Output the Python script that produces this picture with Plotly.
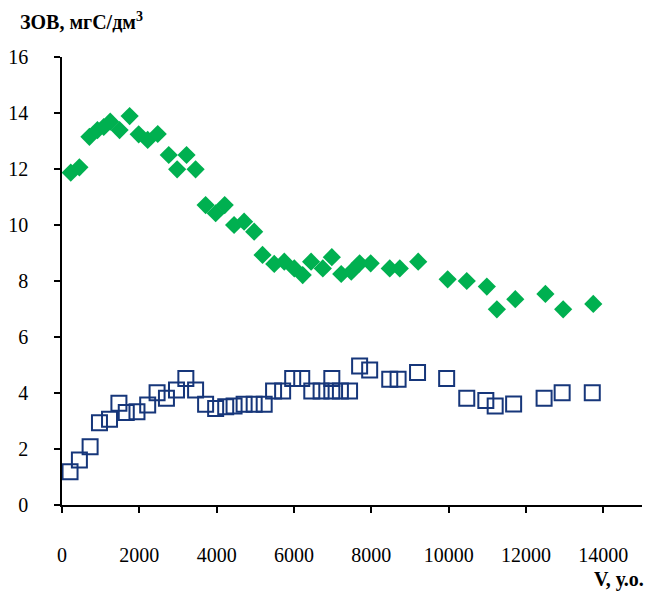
import plotly.graph_objects as go

# Green diamonds (upper series)
green_x = [226, 450, 709, 917, 1080, 1247, 1489, 1749, 1983, 2216, 2476, 2761, 2978, 3221, 3455,
           3714, 3974, 4208, 4450, 4710, 4970, 5186, 5489, 5749, 6008, 6225, 6442, 6745, 6978,
           7221, 7481, 7697, 7983, 8476, 8736, 9212, 9974, 10468, 10987, 11247, 11723, 12502,
           12961, 13740]
green_y = [11.87, 12.06, 13.15, 13.39, 13.5, 13.69, 13.39, 13.89, 13.24, 13.04, 13.25, 12.5, 11.99,
           12.5, 11.99, 10.71, 10.42, 10.71, 10.0, 10.12, 9.76, 8.93, 8.61, 8.69, 8.45, 8.21, 8.69,
           8.45, 8.85, 8.25, 8.33, 8.63, 8.63, 8.45, 8.45, 8.69, 8.06, 8.0, 7.8, 6.99, 7.35, 7.54,
           6.99, 7.18]

# Blue open squares (lower series)
blue_x = [208, 450, 727, 969, 1229, 1472, 1662, 1939, 2216, 2459, 2701, 2961, 3203, 3455, 3714,
          3974, 4234, 4450, 4710, 4970, 5229, 5472, 5706, 5966, 6200, 6460, 6701, 6978, 6978,
          7200, 7437, 7697, 7957, 8476, 8692, 9195, 9948, 10468, 10961, 11203, 11680, 12468,
          12935, 13714]
blue_y = [1.19, 1.61, 2.08, 2.94, 3.06, 3.63, 3.30, 3.33, 3.57, 4.01, 3.81, 4.11, 4.52, 4.11, 3.60,
          3.45, 3.51, 3.54, 3.60, 3.60, 3.60, 4.07, 4.07, 4.52, 4.52, 4.07, 4.07, 4.52, 4.07,
          4.07, 4.07, 4.96, 4.82, 4.49, 4.49, 4.73, 4.52, 3.81, 3.73, 3.54, 3.61, 3.81, 4.01, 4.01]

y_title = "ЗОВ, мгС/дм<sup>3</sup>"
x_title = "V, у.о."

font_family = "'Liberation Serif', 'DejaVu Serif', serif"

fig = go.Figure()
fig.add_trace(go.Scatter(
    x=green_x, y=green_y, mode="markers",
    marker=dict(symbol="diamond", size=14, color="#00B050", line=dict(width=0)),
    showlegend=False))
fig.add_trace(go.Scatter(
    x=blue_x, y=blue_y, mode="markers",
    marker=dict(symbol="square-open", size=15, color="#16367A", line=dict(width=2)),
    showlegend=False))

# page body has an 8px default margin: size the figure to fit the window
fig.update_layout(
    width=652, height=583,
    margin=dict(l=54, r=18, t=49, b=86),
    paper_bgcolor="white", plot_bgcolor="white",
    font=dict(family=font_family, size=20, color="black"),
    showlegend=False,
)
fig.update_xaxes(
    range=[0, 15000], dtick=2000, tick0=0, tickformat="d",
    showline=True, linecolor="black", linewidth=1.5,
    ticks="outside", ticklen=6, tickcolor="black", tickwidth=1.5,
    showgrid=False, zeroline=False, automargin=False,
    ticklabelstandoff=25,
)
fig.update_yaxes(
    range=[0, 16], dtick=2, tick0=0,
    showline=True, linecolor="black", linewidth=1.5,
    ticks="outside", ticklen=6, tickcolor="black", tickwidth=1.5,
    showgrid=False, zeroline=False, automargin=False,
    ticklabelstandoff=22,
)
fig.add_annotation(text="<b>" + y_title + "</b>", xref="paper", yref="paper",
                   x=-44/580, y=1 + 36/448, xanchor="left", yanchor="middle",
                   showarrow=False, font=dict(family=font_family, size=20, color="black"))
fig.add_annotation(text="<b>" + x_title + "</b>", xref="paper", yref="paper",
                   x=1 + 4/580, y=-74/448, xanchor="right", yanchor="middle",
                   showarrow=False, font=dict(family=font_family, size=20, color="black"))

fig.write_html("out.html")
